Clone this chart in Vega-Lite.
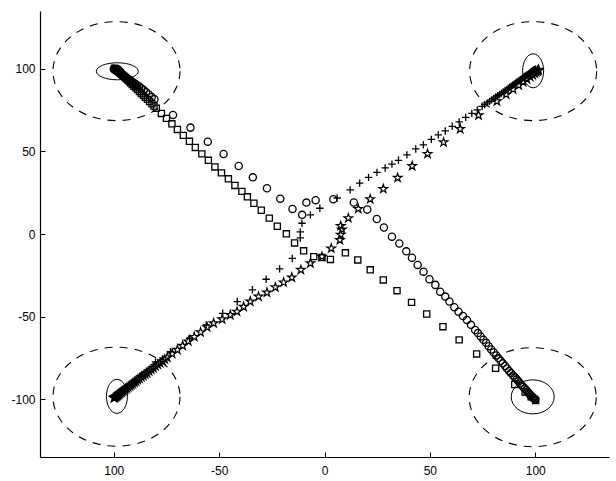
{
  "$schema": "https://vega.github.io/schema/vega-lite/v6.json",
  "width": 569,
  "height": 446,
  "autosize": {"type": "none"},
  "padding": {"left": 40, "top": 11, "right": 7, "bottom": 24},
  "background": "white",
  "config": {
    "view": {"stroke": null},
    "axis": {
      "grid": false,
      "domainColor": "black",
      "domainWidth": 1.2,
      "tickColor": "black",
      "tickWidth": 1,
      "labelColor": "black",
      "labelFont": "Liberation Sans",
      "labelFontSize": 12,
      "title": null
    }
  },
  "datasets": {
    "circles": [
      {"x": -100, "y": 100}, {"x": -99.8, "y": 99.8}, {"x": -99.5, "y": 99.6}, {"x": -99.3, "y": 99.4},
      {"x": -99.1, "y": 99.2}, {"x": -98.8, "y": 98.9}, {"x": -98.5, "y": 98.7}, {"x": -98.1, "y": 98.3},
      {"x": -97.8, "y": 98}, {"x": -97.4, "y": 97.6}, {"x": -97, "y": 97.2}, {"x": -96.5, "y": 96.7},
      {"x": -96, "y": 96.3}, {"x": -95.4, "y": 95.8}, {"x": -94.8, "y": 95.3}, {"x": -94.1, "y": 94.7},
      {"x": -93.4, "y": 94.1}, {"x": -92.6, "y": 93.4}, {"x": -91.8, "y": 92.7}, {"x": -90.9, "y": 91.9},
      {"x": -90, "y": 91.1}, {"x": -89, "y": 90.2}, {"x": -88, "y": 89.3}, {"x": -86.9, "y": 88.2},
      {"x": -85.8, "y": 87.1}, {"x": -84.6, "y": 85.8}, {"x": -83.4, "y": 84.5}, {"x": -82, "y": 83},
      {"x": -80.7, "y": 81.6},
      {"x": -71.9, "y": 72.1}, {"x": -63.6, "y": 64.4}, {"x": -55.4, "y": 55.9}, {"x": -47.9, "y": 48.4},
      {"x": -40.7, "y": 41.2}, {"x": -34.0, "y": 34.3}, {"x": -27.3, "y": 27.7}, {"x": -21.0, "y": 21.4},
      {"x": -15.2, "y": 15.2}, {"x": -10.6, "y": 11.6}, {"x": -8.6, "y": 19.0}, {"x": -4.2, "y": 20.5},
      {"x": 4.2, "y": 21.0}, {"x": 13.9, "y": 19.1}, {"x": 20.3, "y": 14.8}, {"x": 24.8, "y": 9.1},
      {"x": 28.2, "y": 3.9}, {"x": 32.0, "y": -1.6}, {"x": 35.5, "y": -5.8}, {"x": 38.8, "y": -10.5},
      {"x": 41.5, "y": -14.4}, {"x": 44.2, "y": -18.7}, {"x": 47.0, "y": -22.8}, {"x": 49.8, "y": -27.4},
      {"x": 52.6, "y": -30.8}, {"x": 54.9, "y": -34.9}, {"x": 57.3, "y": -37.9}, {"x": 59.3, "y": -40.9},
      {"x": 61.6, "y": -44.3}, {"x": 63.6, "y": -47.0}, {"x": 65.7, "y": -49.6}, {"x": 67.6, "y": -52.0},
      {"x": 69.5, "y": -55.0}, {"x": 71.5, "y": -58.1}, {"x": 72.8, "y": -60.0}, {"x": 74.1, "y": -62.0},
      {"x": 75.4, "y": -64.0}, {"x": 76.7, "y": -65.9}, {"x": 77.9, "y": -67.9}, {"x": 79.1, "y": -69.9},
      {"x": 80.3, "y": -71.7}, {"x": 81.5, "y": -73.5}, {"x": 82.5, "y": -75.1}, {"x": 83.6, "y": -76.8},
      {"x": 84.6, "y": -78.3}, {"x": 85.7, "y": -79.9}, {"x": 86.6, "y": -81.4}, {"x": 87.6, "y": -82.9},
      {"x": 88.5, "y": -84.2}, {"x": 89.5, "y": -85.6}, {"x": 90.3, "y": -86.8}, {"x": 91.2, "y": -88.0},
      {"x": 92.0, "y": -89.2}, {"x": 92.9, "y": -90.5}, {"x": 93.6, "y": -91.5}, {"x": 94.3, "y": -92.6},
      {"x": 95.0, "y": -93.5}, {"x": 95.7, "y": -94.4}, {"x": 96.3, "y": -95.3}, {"x": 96.9, "y": -96.2},
      {"x": 97.3, "y": -96.9}, {"x": 97.8, "y": -97.7}, {"x": 98.3, "y": -98.3}, {"x": 98.8, "y": -98.9},
      {"x": 99.1, "y": -99.3}, {"x": 99.5, "y": -99.8}, {"x": 99.8, "y": -99.9}, {"x": 100, "y": -100}
    ],
    "squares": [
      {"x": -99.6, "y": 100.3}, {"x": -99.2, "y": 100.1}, {"x": -98.7, "y": 99.8}, {"x": -98.4, "y": 99.5},
      {"x": -98.1, "y": 99.2}, {"x": -97.7, "y": 98.7}, {"x": -97.3, "y": 98.2}, {"x": -96.9, "y": 97.6},
      {"x": -96.4, "y": 96.9}, {"x": -95.8, "y": 96.2}, {"x": -95.2, "y": 95.5}, {"x": -94.6, "y": 94.8},
      {"x": -94.0, "y": 94.0}, {"x": -93.3, "y": 93.2}, {"x": -92.6, "y": 92.3}, {"x": -91.9, "y": 91.4},
      {"x": -91.2, "y": 90.5}, {"x": -90.4, "y": 89.5}, {"x": -89.5, "y": 88.5}, {"x": -88.7, "y": 87.4},
      {"x": -87.8, "y": 86.3}, {"x": -86.9, "y": 85.1}, {"x": -85.9, "y": 83.9}, {"x": -85.0, "y": 82.7},
      {"x": -84.0, "y": 81.5}, {"x": -83.0, "y": 80.2}, {"x": -81.9, "y": 78.8}, {"x": -80.9, "y": 77.5},
      {"x": -79.8, "y": 76.1}, {"x": -77.4, "y": 73.0}, {"x": -75.0, "y": 70.0}, {"x": -72.4, "y": 66.7},
      {"x": -69.8, "y": 63.3}, {"x": -67.0, "y": 59.7}, {"x": -64.1, "y": 56.1}, {"x": -61.3, "y": 52.4},
      {"x": -58.2, "y": 48.5}, {"x": -55.1, "y": 44.6}, {"x": -52.0, "y": 40.6}, {"x": -48.9, "y": 37.0},
      {"x": -45.6, "y": 33.4}, {"x": -42.5, "y": 29.4}, {"x": -39.2, "y": 25.8}, {"x": -36.6, "y": 22.5},
      {"x": -33.5, "y": 18.6}, {"x": -30.0, "y": 14.4}, {"x": -26.2, "y": 9.6}, {"x": -22.4, "y": 4.7},
      {"x": -18.1, "y": 0.1}, {"x": -14.2, "y": -5.4}, {"x": -9.9, "y": -10.2}, {"x": -5.1, "y": -13.7},
      {"x": -1.2, "y": -14.2}, {"x": 2.8, "y": -15.4}, {"x": 9.9, "y": -11.4}, {"x": 15.8, "y": -15.7},
      {"x": 21.7, "y": -21.7}, {"x": 27.9, "y": -27.8}, {"x": 34.4, "y": -34.3}, {"x": 41.3, "y": -41.4},
      {"x": 48.5, "y": -48.4}, {"x": 56.2, "y": -56.1}, {"x": 63.9, "y": -64.1}, {"x": 72.2, "y": -72.6},
      {"x": 81.2, "y": -81.3}, {"x": 90.3, "y": -91.1}, {"x": 95.2, "y": -95.6}, {"x": 98.1, "y": -98.6},
      {"x": 100.2, "y": -100.8}
    ],
    "pluses": [
      {"x": -100.0, "y": -98.8}, {"x": -99.8, "y": -98.6}, {"x": -99.4, "y": -98.2}, {"x": -98.9, "y": -97.7},
      {"x": -98.2, "y": -97.1}, {"x": -97.3, "y": -96.2}, {"x": -96.2, "y": -95.2}, {"x": -94.9, "y": -93.9},
      {"x": -93.3, "y": -92.5}, {"x": -91.5, "y": -90.8}, {"x": -89.4, "y": -88.8}, {"x": -87.0, "y": -86.5},
      {"x": -84.0, "y": -83.2}, {"x": -80.2, "y": -77.4}, {"x": -73.1, "y": -71.2}, {"x": -64.0, "y": -63.1},
      {"x": -56.1, "y": -55.0}, {"x": -48.3, "y": -48.0}, {"x": -41.4, "y": -40.9}, {"x": -34.2, "y": -33.8},
      {"x": -27.7, "y": -27.4}, {"x": -21.3, "y": -21.1}, {"x": -15.3, "y": -14.8}, {"x": -11.5, "y": -2.4},
      {"x": -11.5, "y": 1.3}, {"x": -10.7, "y": 6.5}, {"x": -6.7, "y": 11.6}, {"x": -2.2, "y": 15.6},
      {"x": 6.0, "y": 21.8}, {"x": 12.2, "y": 26.7}, {"x": 16.7, "y": 30.8}, {"x": 20.9, "y": 34.3},
      {"x": 24.9, "y": 37.3}, {"x": 28.8, "y": 40.0}, {"x": 32.0, "y": 42.3}, {"x": 35.1, "y": 44.6},
      {"x": 39.1, "y": 47.9}, {"x": 43.3, "y": 51.5}, {"x": 46.9, "y": 54.0}, {"x": 50.7, "y": 57.3},
      {"x": 54.0, "y": 60.0}, {"x": 57.3, "y": 62.4}, {"x": 60.6, "y": 65.2}, {"x": 63.9, "y": 67.9},
      {"x": 67.0, "y": 70.6}, {"x": 69.9, "y": 73.0}, {"x": 72.5, "y": 75.1}, {"x": 74.8, "y": 77.3},
      {"x": 76.0, "y": 78.4}, {"x": 77.2, "y": 79.4}, {"x": 78.3, "y": 80.3}, {"x": 79.3, "y": 81.2},
      {"x": 80.3, "y": 82.1}, {"x": 81.2, "y": 82.9}, {"x": 82.2, "y": 83.7}, {"x": 83.1, "y": 84.5},
      {"x": 84.0, "y": 85.3}, {"x": 84.8, "y": 86.0}, {"x": 85.7, "y": 86.7}, {"x": 86.5, "y": 87.4},
      {"x": 87.2, "y": 88.1}, {"x": 87.9, "y": 88.8}, {"x": 88.6, "y": 89.5}, {"x": 89.3, "y": 90.1},
      {"x": 90.0, "y": 90.7}, {"x": 90.6, "y": 91.3}, {"x": 91.2, "y": 91.9}, {"x": 91.8, "y": 92.4},
      {"x": 92.4, "y": 92.9}, {"x": 93.0, "y": 93.4}, {"x": 93.5, "y": 93.9}, {"x": 94.0, "y": 94.4},
      {"x": 94.5, "y": 94.9}, {"x": 95.0, "y": 95.3}, {"x": 95.5, "y": 95.7}, {"x": 95.9, "y": 96.1},
      {"x": 96.4, "y": 96.5}, {"x": 96.8, "y": 96.8}, {"x": 97.2, "y": 97.2}, {"x": 97.5, "y": 97.5},
      {"x": 97.9, "y": 97.9}, {"x": 98.2, "y": 98.2}, {"x": 98.5, "y": 98.4}, {"x": 98.7, "y": 98.6},
      {"x": 99.0, "y": 98.9}, {"x": 99.2, "y": 99.1}, {"x": 99.4, "y": 99.3}, {"x": 99.6, "y": 99.4},
      {"x": 99.9, "y": 99.6}, {"x": 100.1, "y": 99.8}
    ],
    "stars": [
      {"x": -99.9, "y": -99.3}, {"x": -99.6, "y": -99.0}, {"x": -99.4, "y": -98.8}, {"x": -99.1, "y": -98.6},
      {"x": -98.8, "y": -98.3}, {"x": -98.5, "y": -98.0}, {"x": -98.1, "y": -97.6}, {"x": -97.7, "y": -97.2},
      {"x": -97.3, "y": -96.8}, {"x": -96.8, "y": -96.3}, {"x": -96.3, "y": -95.8}, {"x": -95.7, "y": -95.2},
      {"x": -95.1, "y": -94.6}, {"x": -94.5, "y": -94.0}, {"x": -93.8, "y": -93.4}, {"x": -93.1, "y": -92.8},
      {"x": -92.4, "y": -92.1}, {"x": -91.7, "y": -91.4}, {"x": -91.0, "y": -90.7}, {"x": -90.2, "y": -89.9},
      {"x": -89.4, "y": -89.1}, {"x": -88.6, "y": -88.3}, {"x": -87.8, "y": -87.5}, {"x": -86.9, "y": -86.6},
      {"x": -86.0, "y": -85.8}, {"x": -85.1, "y": -85.0}, {"x": -84.2, "y": -84.1}, {"x": -83.2, "y": -83.1},
      {"x": -82.2, "y": -82.1}, {"x": -81.2, "y": -81.1}, {"x": -80.2, "y": -80.1}, {"x": -79.1, "y": -79.1},
      {"x": -78.0, "y": -78.1}, {"x": -76.9, "y": -77.0}, {"x": -75.8, "y": -75.9}, {"x": -74.6, "y": -74.8},
      {"x": -72.3, "y": -72.5}, {"x": -69.8, "y": -70.1}, {"x": -67.3, "y": -67.6}, {"x": -64.6, "y": -65.0},
      {"x": -61.8, "y": -62.3}, {"x": -58.8, "y": -59.5}, {"x": -55.7, "y": -56.4}, {"x": -52.6, "y": -54.0},
      {"x": -48.6, "y": -51.6}, {"x": -44.7, "y": -49.0}, {"x": -41.5, "y": -47.0}, {"x": -38.4, "y": -44.0},
      {"x": -35.2, "y": -40.9}, {"x": -31.3, "y": -37.9}, {"x": -27.3, "y": -35.4}, {"x": -23.3, "y": -32.3},
      {"x": -19.4, "y": -29.3}, {"x": -15.5, "y": -26.3}, {"x": -11.2, "y": -21.7}, {"x": -6.7, "y": -17.7},
      {"x": -1.2, "y": -13.7}, {"x": 3.2, "y": -8.7}, {"x": 7.3, "y": -3.6}, {"x": 7.7, "y": -0.5},
      {"x": 8.3, "y": 2.8}, {"x": 7.7, "y": 4.9}, {"x": 11.3, "y": 9.6}, {"x": 16.0, "y": 15.2},
      {"x": 21.7, "y": 21.1}, {"x": 27.9, "y": 27.3}, {"x": 34.7, "y": 34.0}, {"x": 41.6, "y": 41.2},
      {"x": 48.9, "y": 48.5}, {"x": 56.5, "y": 55.5}, {"x": 64.4, "y": 63.6}, {"x": 73.1, "y": 71.9},
      {"x": 81.8, "y": 80.4}, {"x": 86.2, "y": 84.5}, {"x": 89.5, "y": 87.6}, {"x": 92.2, "y": 90.0},
      {"x": 94.3, "y": 92.0}, {"x": 96.1, "y": 93.7}, {"x": 97.6, "y": 95.1}, {"x": 98.8, "y": 96.3},
      {"x": 99.8, "y": 97.2}, {"x": 100.5, "y": 98.0}, {"x": 101.1, "y": 98.6}, {"x": 101.4, "y": 99.1},
      {"x": 101.6, "y": 99.4}
    ],
    "zones": [
      {"x": -98.7, "y": 98.6}, {"x": 99.0, "y": 98.6}, {"x": -98.7, "y": -98.5}, {"x": 98.8, "y": -98.8}
    ],
    "ellipses": [
      {"x": -98.3, "y": 98.5, "kind": "wide"},
      {"x": 99.0, "y": 98.8, "kind": "tall"},
      {"x": -98.5, "y": -98.3, "kind": "tall"},
      {"x": 98.8, "y": -98.6, "kind": "round"}
    ]
  },
  "encoding": {
    "x": {
      "field": "x",
      "type": "quantitative",
      "scale": {"domain": [-135, 135], "nice": false, "zero": false},
      "axis": {
        "values": [-100, -50, 0, 50, 100],
        "tickSize": -5,
        "labelPadding": 13,
        "labelExpr": "datum.value == -100 ? '100' : replace(datum.label, '\u2212', '-')"
      }
    },
    "y": {
      "field": "y",
      "type": "quantitative",
      "scale": {"domain": [-135, 135], "nice": false, "zero": false},
      "axis": {
        "values": [-100, -50, 0, 50, 100],
        "tickSize": -5,
        "labelPadding": 10,
        "labelExpr": "replace(datum.label, '\u2212', '-')"
      }
    }
  },
  "layer": [
    {
      "data": {"name": "zones"},
      "mark": {
        "type": "point",
        "shape": "M63.5,0A63.5,49.5,0,1,1,-63.5,0A63.5,49.5,0,1,1,63.5,0Z",
        "size": 4,
        "filled": false,
        "stroke": "black",
        "strokeWidth": 1.1,
        "strokeDash": [8, 7],
        "opacity": 1
      }
    },
    {
      "data": {"name": "ellipses"},
      "mark": {
        "type": "point",
        "size": 4,
        "filled": false,
        "stroke": "black",
        "strokeWidth": 1,
        "opacity": 1
      },
      "encoding": {
        "shape": {
          "field": "kind",
          "type": "nominal",
          "legend": null,
          "scale": {
            "domain": ["wide", "tall", "round"],
            "range": [
              "M21,0A21,8.5,0,1,1,-21,0A21,8.5,0,1,1,21,0Z",
              "M10.5,0A10.5,17,0,1,1,-10.5,0A10.5,17,0,1,1,10.5,0Z",
              "M21.5,0A21.5,17,0,1,1,-21.5,0A21.5,17,0,1,1,21.5,0Z"
            ]
          }
        }
      }
    },
    {
      "data": {"name": "circles"},
      "mark": {"type": "point", "shape": "circle", "size": 52, "filled": false, "stroke": "black", "strokeWidth": 1.3, "opacity": 1}
    },
    {
      "data": {"name": "squares"},
      "mark": {"type": "point", "shape": "square", "size": 38, "filled": false, "stroke": "black", "strokeWidth": 1.3, "opacity": 1}
    },
    {
      "data": {"name": "pluses"},
      "mark": {"type": "point", "shape": "M-1,0L1,0M0,-1L0,1", "size": 55, "filled": false, "stroke": "black", "strokeWidth": 1.3, "opacity": 1}
    },
    {
      "data": {"name": "stars"},
      "mark": {
        "type": "point",
        "shape": "M0,-1L0.225,-0.309L0.951,-0.309L0.363,0.118L0.588,0.809L0,0.382L-0.588,0.809L-0.363,0.118L-0.951,-0.309L-0.225,-0.309Z",
        "size": 81,
        "filled": false,
        "stroke": "black",
        "strokeWidth": 1.2,
        "opacity": 1
      }
    }
  ]
}
